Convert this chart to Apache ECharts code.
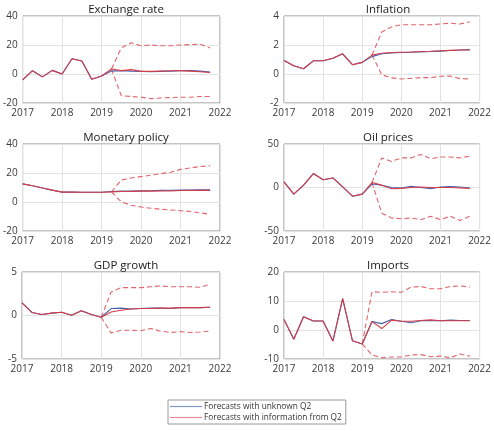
<!DOCTYPE html>
<html>
<head>
<meta charset="utf-8">
<script src="https://cdn.jsdelivr.net/npm/echarts@6/dist/echarts.min.js"></script>
<style>
  html, body { margin: 0; padding: 0; background: #fff; }
  #chart { width: 494px; height: 431px; }
</style>
</head>
<body>
<div id="chart"></div>
<script>
// quarters 2017Q1 .. 2021Q4
const quarters = [2017, 2017.25, 2017.5, 2017.75, 2018, 2018.25, 2018.5, 2018.75,
    2019, 2019.25, 2019.5, 2019.75, 2020, 2020.25, 2020.5, 2020.75,
    2021, 2021.25, 2021.5, 2021.75];

const titles = ['Exchange rate', 'Inflation', 'Monetary policy', 'Oil prices', 'GDP growth', 'Imports'];
const yMin = [-20, -2, -20, -50, -5, -10];
const yMax = [40, 4, 40, 50, 5, 20];
const yStep = [20, 2, 20, 50, 5, 10];

// history 2017Q1..2019Q1
const exHist = [-4.1, 2.3, -2.0, 2.5, 0.0, 10.5, 9.0, -3.6, -1.4];
const inHist = [0.93, 0.57, 0.36, 0.91, 0.91, 1.09, 1.39, 0.64, 0.80];
const mpHist = [12.5, 11.2, 9.7, 8.2, 6.8, 6.8, 6.7, 6.7, 6.7];
const oiHist = [6.5, -7.6, 2.7, 16, 9, 11, 0.8, -10, -7.6];
const gdHist = [1.46, 0.35, 0.12, 0.27, 0.38, 0.04, 0.54, 0.12, -0.2];
const imHist = [3.6, -3.2, 4.6, 3.1, 3.1, -3.8, 10.8, -3.7, -4.8];

// forecasts 2019Q2..2021Q4, unknown Q2 (blue)
const exBlue = [2.0, 2.3, 2.0, 1.8, 1.5, 1.8, 2.0, 2.3, 2.3, 2.0, 1.3];
const inBlue = [1.2, 1.4, 1.45, 1.48, 1.5, 1.52, 1.55, 1.58, 1.62, 1.66, 1.68];
const mpBlue = [7.2, 7.5, 7.6, 7.7, 7.8, 8.0, 8.1, 8.2, 8.3, 8.4, 8.5];
const oiBlue = [4, 2.5, 0, -0.5, 1.5, 0, -1.5, 0.5, 1, 0.5, -0.5];
const gdBlue = [0.8, 0.85, 0.75, 0.8, 0.85, 0.85, 0.8, 0.9, 0.9, 0.9, 0.95];
const imBlue = [2.9, 2.2, 3.6, 3.0, 2.5, 3.2, 3.3, 3.2, 3.4, 3.3, 3.3];

// forecasts 2019Q2..2021Q4, information from Q2 (red)
const exRed = [3.4, 2.3, 3.0, 1.8, 1.8, 2.0, 2.2, 2.3, 2.0, 1.5, 1.0];
const inRed = [1.3, 1.43, 1.48, 1.5, 1.52, 1.55, 1.57, 1.6, 1.63, 1.66, 1.65];
const mpRed = [7.0, 7.2, 7.3, 7.5, 7.5, 7.6, 7.7, 7.9, 8.0, 8.0, 8.0];
const oiRed = [5.7, 2.7, -1.5, -1, 0, 0.5, 0, 0, 0, -0.5, -1];
const gdRed = [0.4, 0.6, 0.75, 0.8, 0.8, 0.85, 0.85, 0.9, 0.9, 0.9, 0.95];
const imRed = [2.9, 0.5, 3.4, 3.0, 3.0, 3.3, 3.5, 3.2, 3.2, 3.2, 3.2];

// bands (dashed), starting at quarter index bandFrom
const bandFrom = [9, 9, 9, 9, 8, 8];
const exUpper = [3.4, 18, 21.5, 19.5, 20, 19.5, 19.5, 20, 20.3, 20.5, 18];
const exLower = [3.4, -15, -15.5, -16, -17, -16.5, -16.3, -16, -16, -15.5, -15.5];
const inUpper = [1.3, 2.9, 3.25, 3.4, 3.4, 3.4, 3.4, 3.45, 3.5, 3.45, 3.6];
const inLower = [1.3, -0.05, -0.27, -0.34, -0.3, -0.25, -0.25, -0.16, -0.14, -0.32, -0.34];
const mpUpper = [7.0, 15.2, 16.5, 17.5, 18.5, 19.5, 20.5, 22.5, 23.5, 24.5, 25.0];
const mpLower = [7.0, 0.0, -2.2, -3.5, -4.3, -5.0, -5.5, -6.0, -6.5, -7.5, -8.5];
const oiUpper = [5.7, 34, 30, 34, 34, 38, 33, 35, 35, 34, 36];
const oiLower = [5.7, -29.6, -35, -36, -35, -37, -33, -37, -33, -38, -33];
const gdUpper = [-0.2, 2.7, 3.2, 3.2, 3.2, 3.3, 3.4, 3.3, 3.3, 3.3, 3.25, 3.6];
const gdLower = [-0.2, -2.0, -1.7, -1.7, -1.75, -1.5, -1.8, -1.95, -1.85, -1.95, -1.9, -1.8];
const imUpper = [-4.8, 13.2, 13.0, 13.2, 13.0, 14.8, 15.0, 14.2, 14.2, 15.0, 15.2, 14.8];
const imLower = [-4.8, -8.6, -9.6, -9.3, -9.3, -8.6, -8.5, -9.2, -9.0, -9.6, -8.3, -9.0];

const hist = [exHist, inHist, mpHist, oiHist, gdHist, imHist];
const blue = [exBlue, inBlue, mpBlue, oiBlue, gdBlue, imBlue];
const red = [exRed, inRed, mpRed, oiRed, gdRed, imRed];
const upper = [exUpper, inUpper, mpUpper, oiUpper, gdUpper, imUpper];
const lower = [exLower, inLower, mpLower, oiLower, gdLower, imLower];

const BLUE_NAME = 'Forecasts with unknown Q2';
const RED_NAME = 'Forecasts with information from Q2';
const BLUE = '#4a62ad';
const RED = '#d23c47';
const BAND = '#e2636b';
const FONT = 'Open Sans';

const gridLeft = [22, 284];
const gridTop = [16, 144, 272];

const pairs = (start, vals) => vals.map((v, i) => [quarters[start + i], v]);

const grids = [], xAxes = [], yAxes = [], titleList = [], series = [];
titles.forEach((t, i) => {
    const col = i % 2, row = Math.floor(i / 2);
    grids.push({
        left: gridLeft[col], top: gridTop[row], width: 198, height: 87,
        show: true, borderColor: '#8a8a8a', borderWidth: 1, backgroundColor: '#fff',
    });
    titleList.push({
        text: t, left: gridLeft[col] + 99, top: gridTop[row] - 17, textAlign: 'center',
        textStyle: { fontFamily: FONT, fontSize: 11.5, fontWeight: 'normal', color: '#1a1a1a' },
    });
    xAxes.push({
        type: 'value', gridIndex: i, min: 2017, max: 2022, interval: 1,
        axisLine: { show: false }, axisTick: { show: false },
        axisLabel: { fontFamily: FONT, fontSize: 10, color: '#3a3a3a', margin: 5, formatter: (v) => String(v) },
        splitLine: { show: true, lineStyle: { color: '#e3e3e3', width: 1 } },
    });
    yAxes.push({
        type: 'value', gridIndex: i, min: yMin[i], max: yMax[i], interval: yStep[i],
        axisLine: { show: false }, axisTick: { show: false },
        axisLabel: { fontFamily: FONT, fontSize: 10, color: '#3a3a3a', margin: 5 },
        splitLine: { show: true, lineStyle: { color: '#e3e3e3', width: 1 } },
    });
    const h = pairs(0, hist[i]);
    const common = { type: 'line', xAxisIndex: i, yAxisIndex: i, symbol: 'none', silent: true, animation: false };
    series.push(Object.assign({}, common, {
        name: BLUE_NAME, data: h.concat(pairs(9, blue[i])),
        lineStyle: { color: BLUE, width: 1.1 }, itemStyle: { color: BLUE }, z: 3,
    }));
    series.push(Object.assign({}, common, {
        name: RED_NAME, data: h.concat(pairs(9, red[i])),
        lineStyle: { color: RED, width: 1.1 }, itemStyle: { color: RED }, z: 4,
    }));
    [upper[i], lower[i]].forEach((b) => {
        series.push(Object.assign({}, common, {
            name: 'band' + i, data: pairs(bandFrom[i], b),
            lineStyle: { color: BAND, width: 1.1, type: [5, 3] }, z: 2,
        }));
    });
});

const chart = echarts.init(document.getElementById('chart'), null, { renderer: 'canvas' });
chart.setOption({
    backgroundColor: '#fff',
    animation: false,
    title: titleList,
    grid: grids,
    xAxis: xAxes,
    yAxis: yAxes,
    legend: {
        data: [
            { name: BLUE_NAME, icon: 'rect', itemStyle: { color: '#7f95cc' } },
            { name: RED_NAME, icon: 'rect', itemStyle: { color: '#e58a90' } },
        ],
        orient: 'vertical',
        left: 168, top: 400,
        itemWidth: 32, itemHeight: 1.2, itemGap: 0,
        padding: [1, 4, 1, 2],
        borderColor: '#9a9a9a', borderWidth: 1, borderRadius: 0,
        textStyle: { fontFamily: FONT, fontSize: 8.3, lineHeight: 11, color: '#333', padding: [0, 0, 0, -3] },
    },
    series: series,
});
</script>
</body>
</html>
